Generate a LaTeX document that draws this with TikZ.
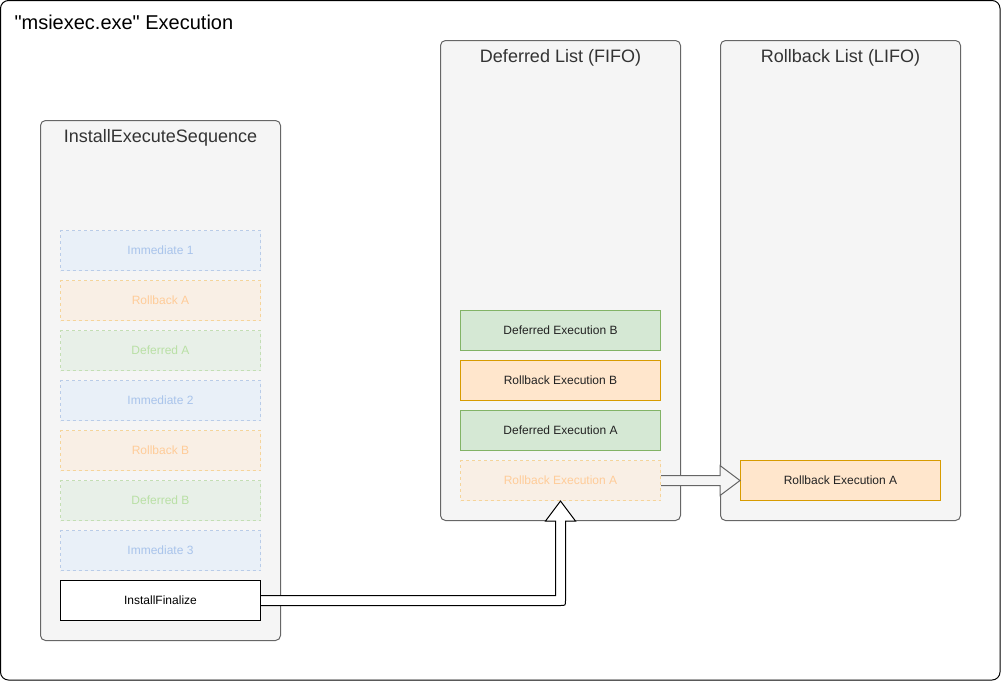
\documentclass[tikz,border=0pt]{standalone}
\usepackage{fontspec}
\setmainfont{Liberation Sans}[Ligatures=TeXOff]
\usetikzlibrary{calc}

\definecolor{frameline}{HTML}{666666}
\definecolor{framefill}{HTML}{F5F5F5}
\definecolor{titletext}{HTML}{333333}
\definecolor{itemtext}{HTML}{222222}
% strong colours
\definecolor{deffill}{HTML}{D5E8D4}
\definecolor{defline}{HTML}{82B366}
\definecolor{rbfill}{HTML}{FFE6CC}
\definecolor{rbline}{HTML}{D79B00}
% faded colours
\definecolor{immfillF}{HTML}{E9F0F8}
\definecolor{immlineF}{HTML}{B9CCE8}
\definecolor{immtextF}{HTML}{A9C4EB}
\definecolor{rbfillF}{HTML}{F9EFE5}
\definecolor{rblineF}{HTML}{F5D49A}
\definecolor{rbtextF}{HTML}{FFCC99}
\definecolor{deffillF}{HTML}{E8F0E8}
\definecolor{deflineF}{HTML}{C3DEB4}
\definecolor{deftextF}{HTML}{B9E0A5}

\begin{document}
\begin{tikzpicture}[x=1pt, y=-1pt, line width=1pt,
    listbox/.style={draw=frameline, fill=framefill, rounded corners=5pt,
        minimum width=240pt, inner sep=0pt, anchor=north west},
    listtitle/.style={text=titletext, font=\fontsize{18}{20}\selectfont, anchor=north},
    item/.style={minimum width=200pt, minimum height=40pt, inner sep=0pt,
        anchor=north west, text=itemtext, font=\fontsize{12}{14}\selectfont},
    faded/.style={item, dash pattern=on 3pt off 3pt},
    immF/.style={faded, draw=immlineF, fill=immfillF, text=immtextF},
    rbF/.style={faded, draw=rblineF, fill=rbfillF, text=rbtextF},
    defF/.style={faded, draw=deflineF, fill=deffillF, text=deftextF},
    defitem/.style={item, draw=defline, fill=deffill},
    rbitem/.style={item, draw=rbline, fill=rbfill},
    flatarrow/.style={draw=black, fill=white, line join=miter}]

    \useasboundingbox (0,0) rectangle (1001,681);

    % Frame
    \draw[rounded corners=8pt] (0.5,0.5) rectangle (1000,680);
    \node[anchor=west, inner sep=0pt, font=\fontsize{20}{22}\selectfont] (title) at (14,22) {"msiexec.exe" Execution};

    % Lists
    \node[listbox, minimum height=520pt] (seq) at (40,120) {};
    \node[listbox, minimum height=480pt] (fifo) at (440,40) {};
    \node[listbox, minimum height=480pt] (lifo) at (720,40) {};
    \node[listtitle] (seqT) at ($(seq.north)+(0,6)$) {InstallExecuteSequence};
    \node[listtitle] (fifoT) at ($(fifo.north)+(0,6)$) {Deferred List (FIFO)};
    \node[listtitle] (lifoT) at ($(lifo.north)+(0,6)$) {Rollback List (LIFO)};

    % InstallExecuteSequence
    \node[immF] (imm1) at (60,230) {Immediate 1};
    \node[rbF] (rbA) at (60,280) {Rollback A};
    \node[defF] (defA) at (60,330) {Deferred A};
    \node[immF] (imm2) at (60,380) {Immediate 2};
    \node[rbF] (rbB) at (60,430) {Rollback B};
    \node[defF] (defB) at (60,480) {Deferred B};
    \node[immF] (imm3) at (60,530) {Immediate 3};
    \node[item, draw=black, fill=white, text=black] (fin) at (60,580) {InstallFinalize};

    % Deferred list
    \node[defitem] (exDefB) at (460,310) {Deferred Execution B};
    \node[rbitem] (exRbB) at (460,360) {Rollback Execution B};
    \node[defitem] (exDefA) at (460,410) {Deferred Execution A};
    \node[rbF] (exRbA) at (460,460) {Rollback Execution A};

    % Rollback list
    \node[rbitem] (lifoRbA) at (740,460) {Rollback Execution A};

    % Arrows
    \coordinate (bend) at (exRbA.south |- fin.east);
    \filldraw[flatarrow] ($(fin.east)+(0,-5)$) -- ($(bend)+(-5,-5)$)
        -- ($(exRbA.south)+(-5,20)$) -- ($(exRbA.south)+(-15,20)$)
        -- (exRbA.south) -- ($(exRbA.south)+(15,20)$) -- ($(exRbA.south)+(5,20)$)
        -- ($(bend)+(5,0)$) .. controls ($(bend)+(5,5)$) .. ($(bend)+(0,5)$)
        -- ($(fin.east)+(0,5)$);
    \filldraw[flatarrow, draw=frameline, fill=framefill] ($(exRbA.east)+(0,-5)$)
        -- ($(lifoRbA.west)+(-20,-5)$) -- ($(lifoRbA.west)+(-20,-15)$)
        -- (lifoRbA.west) -- ($(lifoRbA.west)+(-20,15)$)
        -- ($(lifoRbA.west)+(-20,5)$) -- ($(exRbA.east)+(0,5)$);
\end{tikzpicture}
\end{document}
